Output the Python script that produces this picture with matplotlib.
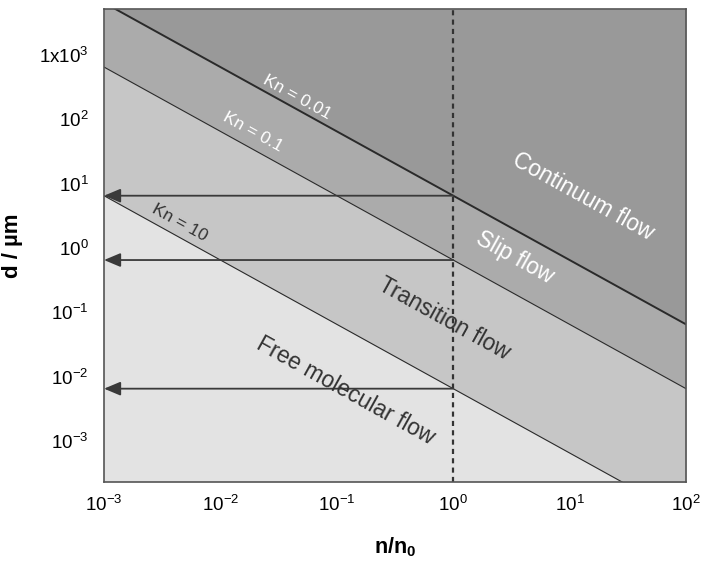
import numpy as np
import matplotlib
matplotlib.use('Agg')
import matplotlib.pyplot as plt

plt.rcParams['font.family'] = ['Liberation Sans', 'DejaVu Sans']
plt.rcParams['mathtext.fontset'] = 'custom'
plt.rcParams['mathtext.rm'] = 'Liberation Sans'
plt.rcParams['mathtext.it'] = 'Liberation Sans:italic'
plt.rcParams['mathtext.bf'] = 'Liberation Sans:bold'

# Donnees
mean_free_path = 0.065          # libre parcours moyen a n0, en um
kn_limits = [0.01, 0.1, 10]     # Knudsen aux frontieres
kn_labels = ['Kn = 0.01', 'Kn = 0.1', 'Kn = 10']
kn_label_x = [0.0455, 0.019, 0.0045]
kn_label_y = [224, 63, 2.5]
kn_label_colors = ['white', 'white', '#333333']

regimes = ['Continuum flow', 'Slip flow', 'Transition flow', 'Free molecular flow']
regime_x = [13, 3.4, 0.83, 0.118]
regime_y = [6.2, 0.7, 0.08, 0.006]
regime_text_colors = ['white', 'white', '#333333', '#333333']
regime_fill = ['#999999', '#ababab', '#c6c6c6', '#e3e3e3']

n_range = [1e-3, 1e2]
d_range = [2.3e-4, 5.2e3]
n_ref = 1.0

x_ticks = [1e-3, 1e-2, 1e-1, 1e0, 1e1, 1e2]
x_ticklabels = ['10$^{-3}$', '10$^{-2}$', '10$^{-1}$', '10$^{0}$', '10$^{1}$', '10$^{2}$']
y_ticks = [1e-3, 1e-2, 1e-1, 1e0, 1e1, 1e2, 1e3]
y_ticklabels = ['10$^{-3}$', '10$^{-2}$', '10$^{-1}$', '10$^{0}$', '10$^{1}$', '10$^{2}$', '1x10$^{3}$']

fig = plt.figure(figsize=(7.01, 5.61), dpi=100)
ax = fig.add_axes([0.1484, 0.1408, 0.8302, 0.8432])
ax.set_xscale('log')
ax.set_yscale('log')
ax.set_xlim(n_range)
ax.set_ylim(d_range)

n = np.array(n_range)
bounds = [mean_free_path / (kn * n) for kn in kn_limits]

# Zones
ax.set_facecolor(regime_fill[3])
ax.fill_between(n, bounds[0], d_range[1], color=regime_fill[0], lw=0)
ax.fill_between(n, bounds[1], bounds[0], color=regime_fill[1], lw=0)
ax.fill_between(n, bounds[2], bounds[1], color=regime_fill[2], lw=0)

# Frontieres
widths = [1.4, 0.8, 0.8]
for b, w in zip(bounds, widths):
    ax.plot(n, b, color='#2a2a2a', lw=w)

# Fleches vers l'axe des d
for kn in kn_limits:
    d = mean_free_path / (kn * n_ref)
    ax.annotate('', xy=(n_range[0], d), xytext=(n_ref, d),
                arrowprops=dict(arrowstyle='-|>,head_length=1.0,head_width=0.42',
                                color='#3a3a3a', lw=1.3, shrinkA=0, shrinkB=0,
                                mutation_scale=10))

ax.axvline(n_ref, color='#333333', lw=1.6, dashes=(2.3, 1.9))

angle = -29
for lab, x, y, c in zip(kn_labels, kn_label_x, kn_label_y, kn_label_colors):
    ax.text(x, y, lab, rotation=angle, rotation_mode='anchor', ha='center', va='center',
            fontsize=12.5, color=c, zorder=5)
for lab, x, y, c in zip(regimes, regime_x, regime_y, regime_text_colors):
    ax.text(x, y, lab, rotation=angle, rotation_mode='anchor', ha='center', va='center',
            fontsize=16.5, color=c, zorder=5)

ax.set_xticks(x_ticks)
ax.set_xticklabels(x_ticklabels)
ax.set_yticks(y_ticks)
ax.set_yticklabels(y_ticklabels)
ax.minorticks_off()
ax.tick_params(axis='x', length=0, pad=9, labelsize=13.5)
ax.tick_params(axis='y', length=0, pad=11, labelsize=13.5)

for sp in ax.spines.values():
    sp.set_color('#555555')
    sp.set_linewidth(1.2)

ax.set_xlabel(r'$\mathbf{n/n_0}$', fontsize=15.5, labelpad=15)
ax.set_ylabel('d / µm', fontsize=16, fontweight='bold', labelpad=12)

fig.savefig('out.png', dpi=100)
